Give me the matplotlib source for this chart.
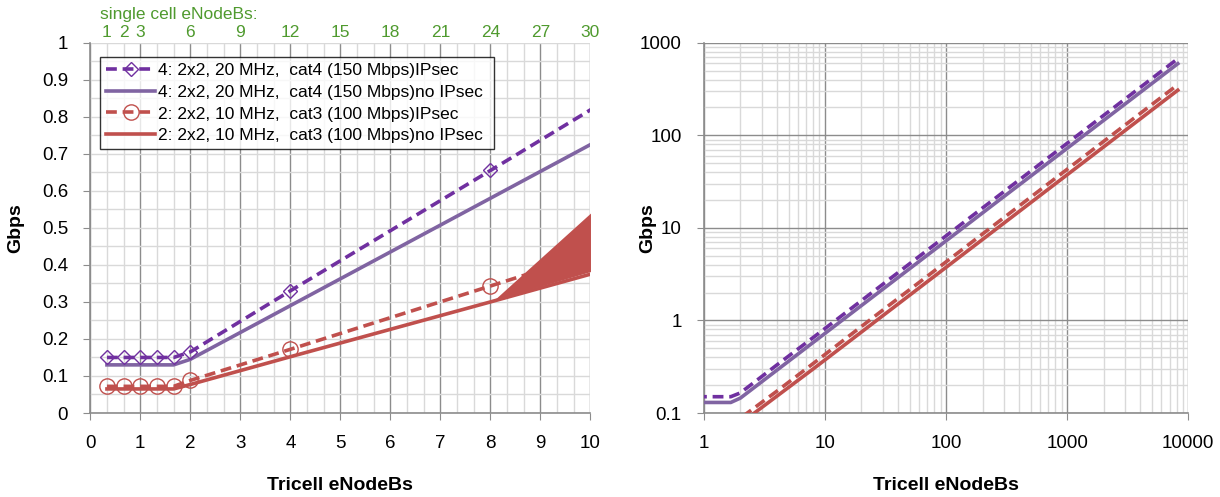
import numpy as np
import matplotlib.pyplot as plt
from matplotlib.ticker import MultipleLocator, FixedLocator, LogLocator, NullFormatter

plt.rcParams['font.family'] = ['Liberation Sans', 'DejaVu Sans']

# tricell eNodeB counts (1/3 .. 5/3 are single-cell sites expressed as tricells)
tricells = [1/3, 2/3, 1, 4/3, 5/3, 2, 4, 8, 16, 32, 64, 128, 256, 512,
            1024, 2048, 4096, 8192]

cat4_ipsec = [0.150, 0.150, 0.150, 0.150, 0.150, 0.165, 0.330, 0.655, 1.31,
              2.62, 5.25, 10.5, 21.0, 42.0, 84.0, 168.0, 336.0, 672.0]
cat4_plain = [0.130, 0.130, 0.130, 0.130, 0.130, 0.145, 0.290, 0.580, 1.16,
              2.32, 4.64, 9.28, 18.6, 37.1, 74.2, 148.5, 297.0, 594.0]
cat3_ipsec = [0.072, 0.072, 0.072, 0.072, 0.072, 0.088, 0.172, 0.343, 0.688,
              1.38, 2.75, 5.50, 11.0, 22.0, 44.0, 88.0, 176.0, 352.0]
cat3_plain = [0.065, 0.065, 0.065, 0.065, 0.065, 0.077, 0.152, 0.300, 0.600,
              1.20, 2.40, 4.80, 9.60, 19.2, 38.4, 76.8, 153.6, 307.0]

# markers only on the short-range points
marked = [0, 1, 2, 3, 4, 5, 6, 7]

# wedge drawn past the last red point on the linear chart
wedge_x = [8.08, 10]
wedge_lo = [0.306, 0.382]
wedge_hi = [0.306, 0.54]

labels = ['4: 2x2, 20 MHz,  cat4 (150 Mbps)IPsec',
          '4: 2x2, 20 MHz,  cat4 (150 Mbps)no IPsec',
          '2: 2x2, 10 MHz,  cat3 (100 Mbps)IPsec',
          '2: 2x2, 10 MHz,  cat3 (100 Mbps)no IPsec']

single_cell_ticks = [1, 2, 3, 6, 9, 12, 15, 18, 21, 24, 27, 30]

purple_d = '#7030A0'
purple = '#8064A2'
red = '#C0504D'
green = '#4F9A2E'
major_c = '#8c8c8c'
minor_c = '#d9d9d9'
dash = (0, (3, 1.6))

fig = plt.figure(figsize=(12.2, 4.97), dpi=100)
ax1 = fig.add_axes([0.074, 0.169, 0.410, 0.745])
ax2 = fig.add_axes([0.577, 0.169, 0.397, 0.745])


def style_axes(ax):
    ax.set_axisbelow(True)
    ax.tick_params(which='major', labelsize=13.5, length=5, color=major_c, pad=11)
    ax.tick_params(which='minor', length=0)
    for s in ax.spines.values():
        s.set_visible(False)
    for side in ('left', 'bottom'):
        ax.spines[side].set_visible(True)
        ax.spines[side].set_color(major_c)
        ax.spines[side].set_linewidth(1.2)


# ---------------------------- linear chart ---------------------------- #
ax1.plot(tricells, cat4_ipsec, color=purple_d, lw=2.6, ls=dash,
         marker='D', ms=7.5, mfc='none', mec=purple_d, mew=1.0,
         markevery=marked, label=labels[0], zorder=4)
ax1.plot(tricells, cat4_plain, color=purple, lw=2.6, label=labels[1], zorder=3)
ax1.plot(tricells, cat3_ipsec, color=red, lw=2.6, ls=dash,
         marker='o', ms=11, mfc='none', mec=red, mew=1.0,
         markevery=marked, label=labels[2], zorder=4)
ax1.plot(tricells, cat3_plain, color=red, lw=2.6, label=labels[3], zorder=3)
ax1.fill_between(wedge_x, wedge_lo, wedge_hi, color=red, lw=0, zorder=5)

ax1.set_xlim(0, 10)
ax1.set_ylim(0, 1)
ax1.xaxis.set_major_locator(MultipleLocator(1))
ax1.xaxis.set_minor_locator(MultipleLocator(1/3))
ax1.yaxis.set_major_locator(MultipleLocator(0.1))
ax1.yaxis.set_minor_locator(MultipleLocator(0.05))
ax1.yaxis.set_major_formatter(plt.FuncFormatter(lambda v, p: '%g' % round(v, 2)))
ax1.grid(which='minor', color=minor_c, lw=1.0)
ax1.grid(which='major', axis='y', color=minor_c, lw=1.0)
ax1.grid(which='major', axis='x', color=major_c, lw=1.0)
style_axes(ax1)
ax1.set_xlabel('Tricell eNodeBs', fontsize=14, fontweight='bold', labelpad=18)
ax1.set_ylabel('Gbps', fontsize=14, fontweight='bold', labelpad=13)

top = ax1.secondary_xaxis('top', functions=(lambda x: x * 3, lambda x: x / 3))
top.xaxis.set_major_locator(FixedLocator(single_cell_ticks))
top.tick_params(labelsize=12.5, labelcolor=green, length=0, pad=2)
for s in top.spines.values():
    s.set_visible(False)
ax1.text(0.02, 1.075, 'single cell eNodeBs:', transform=ax1.transAxes,
         color=green, fontsize=12.5, ha='left', va='center')

leg = ax1.legend(loc='upper left', bbox_to_anchor=(0.02, 0.962, 0.788, 0.0),
                 mode='expand', fontsize=12.5, frameon=True, fancybox=False,
                 edgecolor='black', handlelength=2.8, handletextpad=0.15,
                 borderpad=0.35, labelspacing=0.38, borderaxespad=0)
leg.get_frame().set_linewidth(1.0)

# ------------------------------ log chart ------------------------------ #
ax2.plot(tricells, cat4_ipsec, color=purple_d, lw=2.6, ls=dash, zorder=4)
ax2.plot(tricells, cat4_plain, color=purple, lw=2.6, zorder=3)
ax2.plot(tricells, cat3_ipsec, color=red, lw=2.6, ls=dash, zorder=4)
ax2.plot(tricells, cat3_plain, color=red, lw=2.6, zorder=3)

ax2.set_xscale('log')
ax2.set_yscale('log')
ax2.set_xlim(1, 10000)
ax2.set_ylim(0.1, 1000)
ax2.xaxis.set_minor_locator(LogLocator(base=10, subs=np.arange(2, 10)))
ax2.yaxis.set_minor_locator(LogLocator(base=10, subs=np.arange(2, 10)))
ax2.xaxis.set_minor_formatter(NullFormatter())
ax2.yaxis.set_minor_formatter(NullFormatter())
ax2.xaxis.set_major_formatter(plt.FuncFormatter(lambda v, p: '%g' % v))
ax2.yaxis.set_major_formatter(plt.FuncFormatter(lambda v, p: '%g' % v))
ax2.grid(which='minor', color=minor_c, lw=1.0)
ax2.grid(which='major', color=major_c, lw=1.0)
style_axes(ax2)
ax2.set_xlabel('Tricell eNodeBs', fontsize=14, fontweight='bold', labelpad=18)
ax2.set_ylabel('Gbps', fontsize=14, fontweight='bold', labelpad=-12)

fig.savefig('out.png', dpi=100)
